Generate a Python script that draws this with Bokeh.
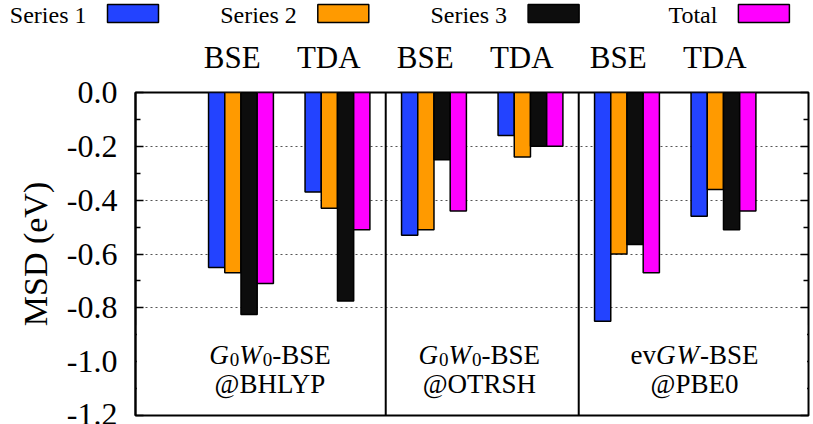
from bokeh.plotting import figure
from bokeh.models import Range1d, FixedTicker, LinearAxis
from bokeh.layouts import column
from bokeh.embed import file_html
from bokeh.resources import INLINE
from bokeh.core.properties import value

FONT = "Liberation Serif"

# ---------------- data ----------------
methods = ["BSE", "TDA", "BSE", "TDA", "BSE", "TDA"]
series_names = ["Series 1", "Series 2", "Series 3", "Total"]
series_colors = ["#2343ff", "#ff9a00", "#0d0d0d", "#ff00ff"]
series1 = [-0.65, -0.37, -0.53, -0.16, -0.85, -0.46]
series2 = [-0.67, -0.43, -0.51, -0.24, -0.60, -0.36]
series3 = [-0.825, -0.775, -0.25, -0.20, -0.565, -0.51]
total = [-0.71, -0.51, -0.44, -0.20, -0.67, -0.44]
y_ticks = [0.0, -0.2, -0.4, -0.6, -0.8, -1.0, -1.2]
y_tick_labels = ["0.0", "-0.2", "-0.4", "-0.6", "-0.8", "-1.0", "-1.2"]
y_minor = [-0.1, -0.3, -0.5, -0.7, -0.9, -1.1]
grid_ticks = [-0.2, -0.4, -0.6, -0.8]
group_bounds = [2.5, 4.5]
group_line1 = [
    [("G", "i"), ("0", "s"), ("W", "i"), ("0", "s"), ("-BSE", "r")],
    [("G", "i"), ("0", "s"), ("W", "i"), ("0", "s"), ("-BSE", "r")],
    [("ev", "r"), ("G", "i"), ("W", "i"), ("-BSE", "r")],
]
group_line2 = ["@BHLYP", "@OTRSH", "@PBE0"]
y_label = "MSD (eV)"

# ---------------- layout ----------------
W, H = 813, 424
LEG_H = 30
X0, X1 = -0.093, 6.881
BAR_W = 0.168
group_label_x = [1.3, 3.47, 5.7]

leg = figure(width=W, height=LEG_H, x_range=Range1d(0, W), y_range=Range1d(0, LEG_H),
             toolbar_location=None, output_backend="svg", min_border=0,
             x_axis_location=None, y_axis_location=None)
leg.frame_align = False
leg.outline_line_color = None
leg.grid.visible = False
for i, (name, col) in enumerate(zip(series_names, series_colors)):
    left = 107 + 210.3 * i
    leg.rect(x=[left + 25.5], y=[LEG_H - 13], width=51, height=18, fill_color=col,
             line_color="black", line_width=1.5)
    leg.text(x=[left - 21], y=[LEG_H - 14], text=[name], text_align="right",
             text_baseline="alphabetic", text_font=value(FONT),
             text_font_size="24px", text_color="black")

p = figure(width=W, height=H - LEG_H, x_range=Range1d(X0, X1), y_range=Range1d(-1.2, 0),
           output_backend="svg", toolbar_location=None, x_axis_location=None,
           y_axis_location="left", min_border_left=135, min_border_right=5,
           min_border_top=92 - LEG_H, min_border_bottom=9)
p.frame_align = False
p.outline_line_color = "black"
p.outline_line_width = 2
p.outline_line_alpha = 1.0
p.xgrid.grid_line_color = None

yt = FixedTicker(ticks=y_ticks, minor_ticks=y_minor)
ya = p.yaxis[0]
ya.ticker = yt
ya.major_label_overrides = {t: l for t, l in zip(y_ticks, y_tick_labels)}
ya.axis_line_color = "black"
ya.axis_line_width = 2
ya.major_tick_in = 8
ya.major_tick_out = 0
ya.minor_tick_in = 5
ya.minor_tick_out = 0
ya.major_tick_line_width = 1.5
ya.minor_tick_line_width = 1.5
ya.major_label_standoff = 18
ya.major_label_text_font = FONT
ya.major_label_text_font_size = "32px"
ya.major_label_text_color = "black"
ya.axis_label = y_label
ya.axis_label_text_font = FONT
ya.axis_label_text_font_size = "34px"
ya.axis_label_text_font_style = "normal"
ya.axis_label_text_color = "black"
ya.axis_label_standoff = 10

ra = LinearAxis(ticker=yt, axis_line_color=None, major_tick_in=8, major_tick_out=0,
                minor_tick_in=5, minor_tick_out=0, major_tick_line_width=1.5,
                minor_tick_line_width=1.5, major_label_text_font_size="0px",
                major_label_text_alpha=0, major_label_standoff=0)
p.add_layout(ra, "right")

p.extra_x_ranges = {"lab": Range1d(X0 + 0.09, X1 + 0.09)}
ta = LinearAxis(x_range_name="lab", ticker=FixedTicker(ticks=list(range(1, len(methods) + 1))),
                major_label_overrides={i + 1: m for i, m in enumerate(methods)},
                axis_line_color=None, major_tick_line_color=None, minor_tick_line_color=None,
                major_label_text_font=FONT, major_label_text_font_size="31px",
                major_label_text_color="black", major_label_standoff=12)
p.add_layout(ta, "above")

p.ygrid.ticker = FixedTicker(ticks=grid_ticks)
p.ygrid.grid_line_color = "#555555"
p.ygrid.grid_line_dash = "2 3"
p.ygrid.grid_line_width = 1

offsets = [-1.5 * BAR_W, -0.5 * BAR_W, 0.5 * BAR_W, 1.5 * BAR_W]
for vals, col, off in zip([series1, series2, series3, total], series_colors, offsets):
    xs = [i + 1 + off for i in range(len(vals))]
    p.vbar(x=xs, width=BAR_W, top=0, bottom=vals, fill_color=col,
           line_color="black", line_width=1.5)

# opaque label area at the bottom
p.quad(left=[X0 + 0.015], right=[X1 - 0.015], top=[-0.865], bottom=[-1.2 + 0.006],
       fill_color="white", line_color=None, level="overlay")

p.segment(x0=group_bounds, y0=[0] * len(group_bounds), x1=group_bounds,
          y1=[-1.2] * len(group_bounds), line_color="black", line_width=2, level="overlay")

W_REG = {"e": 0.444, "v": 0.5, "-": 0.333, "B": 0.667, "S": 0.556, "E": 0.611, "0": 0.5}
W_IT = {"G": 0.722, "W": 0.833}
F1, FS = 27, 19
Y1, YS, Y2 = -0.975, -0.993, -1.083
for gx, pieces, sub in zip(group_label_x, group_line1, group_line2):
    widths = []
    for txt, kind in pieces:
        if kind == "i":
            widths.append(sum(W_IT[c] for c in txt) * F1 + 1)
        elif kind == "s":
            widths.append(sum(W_REG[c] for c in txt) * FS)
        else:
            widths.append(sum(W_REG[c] for c in txt) * F1)
    cur = -sum(widths) / 2
    for (txt, kind), wpx in zip(pieces, widths):
        if kind == "s":
            p.text(x=[gx], y=[YS], text=[txt], x_offset=cur, text_align="left",
                   text_baseline="alphabetic", text_font=value(FONT),
                   text_font_size=f"{FS}px", text_color="black", level="overlay")
        else:
            p.text(x=[gx], y=[Y1], text=[txt], x_offset=cur, text_align="left",
                   text_baseline="alphabetic", text_font=value(FONT),
                   text_font_size=f"{F1}px", text_color="black",
                   text_font_style="italic" if kind == "i" else "normal", level="overlay")
        cur += wpx
    p.text(x=[gx], y=[Y2], text=[sub], text_align="center", text_baseline="alphabetic",
           text_font=value(FONT), text_font_size=f"{F1}px", text_color="black", level="overlay")

layout = column(leg, p)
open("out.html", "w").write(file_html(layout, INLINE))
